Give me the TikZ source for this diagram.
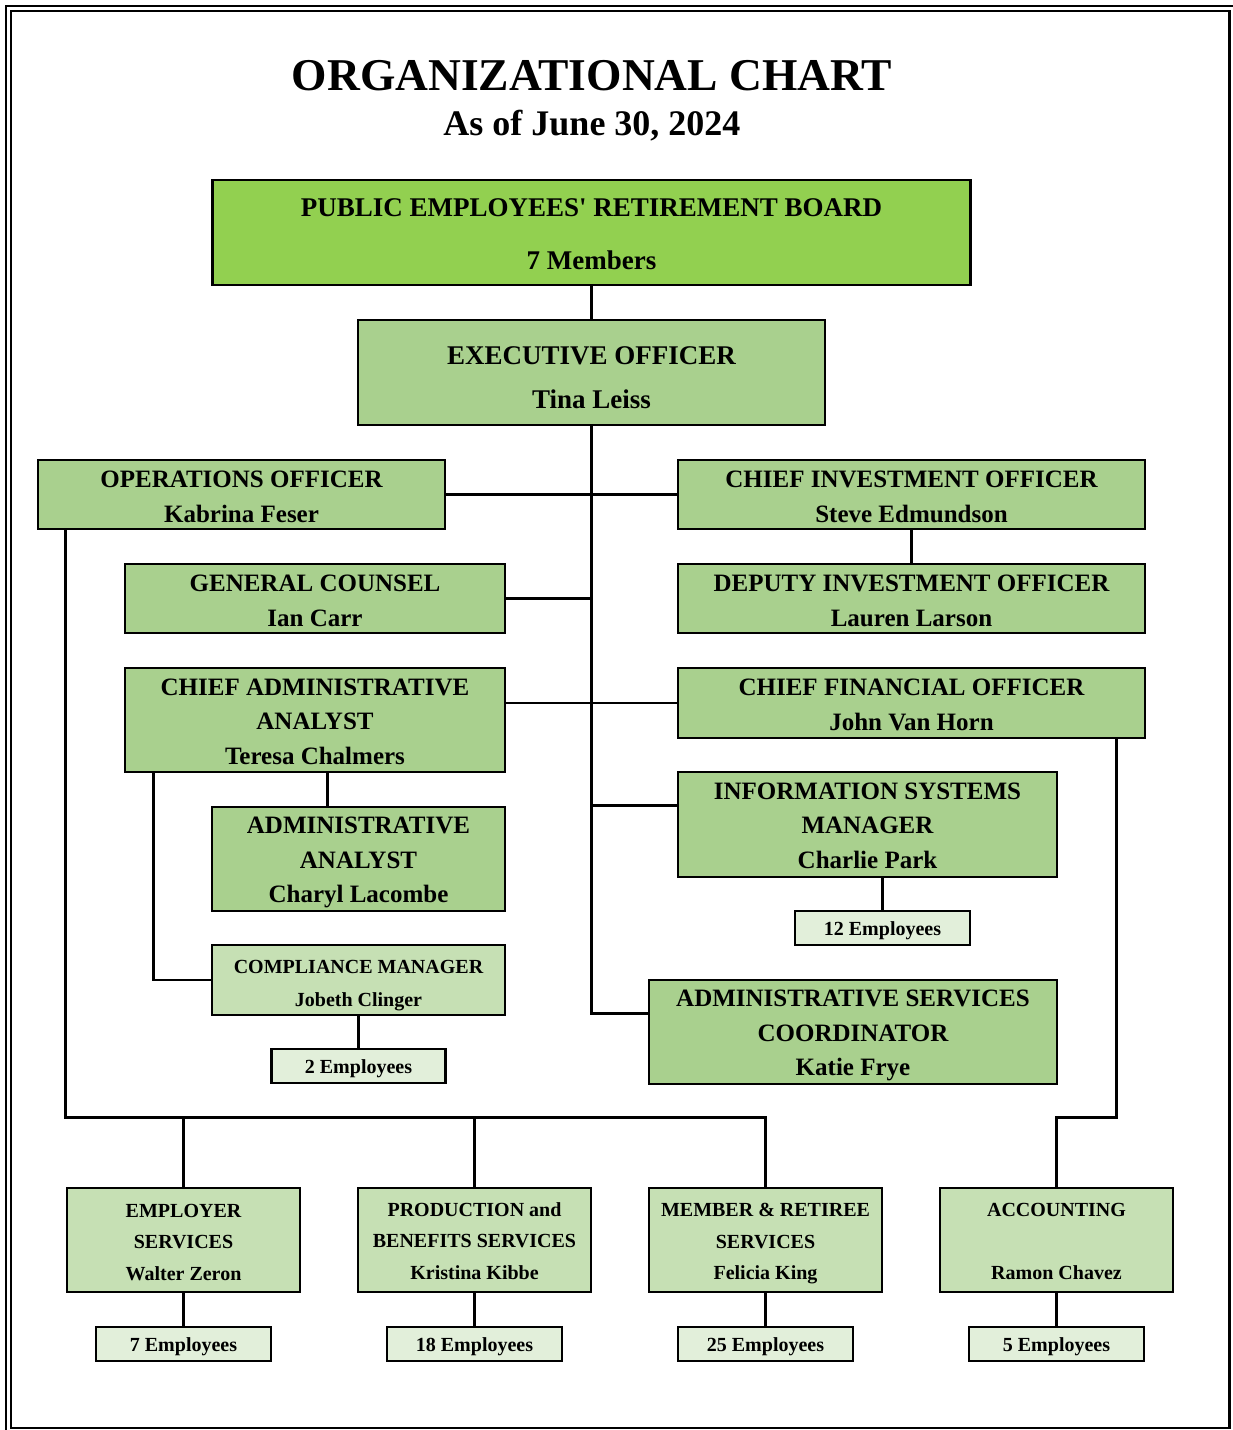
\documentclass[tikz,border=0pt]{standalone}
\usepackage{fontspec}
\setmainfont{Liberation Serif}
\usetikzlibrary{calc}
\definecolor{boardgreen}{HTML}{92D050}
\definecolor{midgreen}{HTML}{A9D08E}
\definecolor{lightgreen}{HTML}{C6E0B4}
\definecolor{palegreen}{HTML}{E2EFDA}
\newcommand{\tdrop}[1]{\rule{0pt}{#1}}
\tikzset{
  orgbox/.style={draw, line width=2.6pt, fill=midgreen, align=center, inner sep=0pt,
    font=\bfseries\fontsize{25}{34.5}\selectfont},
  bigbox/.style={orgbox, font=\bfseries\fontsize{27}{44}\selectfont},
  boardbox/.style={orgbox, fill=boardgreen, font=\bfseries\fontsize{27}{53}\selectfont},
  unitbox/.style={orgbox, fill=lightgreen, minimum width=233pt, minimum height=104pt,
    font=\bfseries\fontsize{20}{31.5}\selectfont},
  complbox/.style={orgbox, fill=lightgreen, font=\bfseries\fontsize{20}{33}\selectfont},
  staffbox/.style={orgbox, fill=palegreen, minimum width=175pt, minimum height=34pt,
    font=\bfseries\fontsize{20}{24}\selectfont},
  link/.style={line width=2.5pt},
  frameline/.style={line width=2.6pt}
}
\begin{document}
\begin{tikzpicture}[x=1pt, y=-1pt]
\useasboundingbox (0,0) rectangle (1233,1430);
% page frame
\draw[frameline] (6,1430) -- (6,6) -- (1233,6);
\draw[frameline] (11,11) rectangle (1229.5,1428);

% titles
\node[font=\bfseries\fontsize{45.5}{50}\selectfont] (title) at (592,76) {ORGANIZATIONAL CHART};
\node[font=\bfseries\fontsize{36}{40}\selectfont] (subtitle) at (592,126) {As of June 30, 2024};

% boxes
\node[boardbox, minimum width=758pt, minimum height=105pt] (board) at (591.5,232.5)
  {\tdrop{20.4pt}PUBLIC EMPLOYEES\textquotesingle\ RETIREMENT BOARD\\7 Members};
\node[bigbox, minimum width=467pt, minimum height=105pt] (exec) at (591.5,372.5)
  {\tdrop{28.4pt}EXECUTIVE OFFICER\\Tina Leiss};
\node[orgbox, minimum width=407pt, minimum height=69pt] (ops) at (241.5,494.5)
  {\tdrop{21pt}OPERATIONS OFFICER\\Kabrina Feser};
\node[orgbox, minimum width=467pt, minimum height=69pt] (cio) at (911.5,494.5)
  {\tdrop{21pt}CHIEF INVESTMENT OFFICER\\Steve Edmundson};
\node[orgbox, minimum width=380pt, minimum height=69pt] (gc) at (315,598.5)
  {\tdrop{21pt}GENERAL COUNSEL\\Ian Carr};
\node[orgbox, minimum width=467pt, minimum height=69pt] (dio) at (911.5,598.5)
  {\tdrop{21pt}DEPUTY INVESTMENT OFFICER\\Lauren Larson};
\node[orgbox, minimum width=380pt, minimum height=104pt] (caa) at (315,720)
  {\tdrop{20pt}CHIEF ADMINISTRATIVE\\ANALYST\\Teresa Chalmers};
\node[orgbox, minimum width=467pt, minimum height=70pt] (cfo) at (911.5,703)
  {\tdrop{20pt}CHIEF FINANCIAL OFFICER\\John Van Horn};
\node[orgbox, minimum width=293pt, minimum height=104pt] (aa) at (358.5,859)
  {\tdrop{24pt}ADMINISTRATIVE\\ANALYST\\Charyl Lacombe};
\node[orgbox, minimum width=379pt, minimum height=105pt] (ism) at (867.5,824.5)
  {\tdrop{19pt}INFORMATION SYSTEMS\\MANAGER\\Charlie Park};
\node[staffbox] (ismstaff) at (882.5,928) {\tdrop{19.6pt}12 Employees};
\node[complbox, minimum width=293pt, minimum height=70pt] (compl) at (358.5,980)
  {\tdrop{23.6pt}COMPLIANCE MANAGER\\Jobeth Clinger};
\node[staffbox, minimum width=174pt] (complstaff) at (358.5,1066) {\tdrop{19.6pt}2 Employees};
\node[orgbox, minimum width=408pt, minimum height=104pt] (asc) at (853,1032)
  {\tdrop{24pt}ADMINISTRATIVE SERVICES\\COORDINATOR\\Katie Frye};

\node[unitbox] (emp) at (183.5,1240) {\tdrop{17.6pt}EMPLOYER\\SERVICES\\Walter Zeron};
\node[unitbox] (prod) at (474.5,1240) {\tdrop{15.6pt}PRODUCTION and\\BENEFITS SERVICES\\Kristina Kibbe};
\node[unitbox] (mem) at (765.5,1240) {\tdrop{20.6pt}MEMBER \& RETIREE\\SERVICES\\Felicia King};
\node[unitbox] (acc) at (1056.5,1240) {\tdrop{15.6pt}ACCOUNTING\\\strut\\Ramon Chavez};

\node[staffbox] (empstaff) at (183.5,1344) {\tdrop{19.6pt}7 Employees};
\node[staffbox] (prodstaff) at (474.5,1344) {\tdrop{19.6pt}18 Employees};
\node[staffbox] (memstaff) at (765.5,1344) {\tdrop{19.6pt}25 Employees};
\node[staffbox] (accstaff) at (1056.5,1344) {\tdrop{19.6pt}5 Employees};

% connectors
\draw[link] (board.south) -- (exec.north);
\draw[link] (exec.south) |- ($(asc.north west)+(0,35)$);
\draw[link] (ops.east) -- (cio.west);
\draw[link] (cio.south) -- (dio.north);
\draw[link] (gc.east) -- (gc.east -| exec.south);
\draw[link] (caa.east |- cfo.west) -- (cfo.west);
\draw[link] ($(ism.north west)+(0,35)$) -- ($(ism.north west -| exec.south)+(0,35)$);
\draw[link] ($(caa.south west)+(204,0)$) coordinate (caaaa) -- (caaaa |- aa.north);
\draw[link] ($(caa.south west)+(30,0)$) |- (compl.west);
\draw[link] (compl.south) -- (complstaff.north);
\draw[link] (ismstaff.north) -- (ismstaff.north |- ism.south);
\draw[link] ($(ops.south west)+(29,0)$) |- ($(mem.north)+(0,-69)$) -- (mem.north);
\draw[link] (emp.north) -- ++(0,-69);
\draw[link] (prod.north) -- ++(0,-69);
\draw[link] ($(cfo.south east)+(-30,0)$) |- ($(acc.north)+(0,-69)$) -- (acc.north);
\draw[link] (emp.south) -- (empstaff.north);
\draw[link] (prod.south) -- (prodstaff.north);
\draw[link] (mem.south) -- (memstaff.north);
\draw[link] (acc.south) -- (accstaff.north);
\end{tikzpicture}
\end{document}
